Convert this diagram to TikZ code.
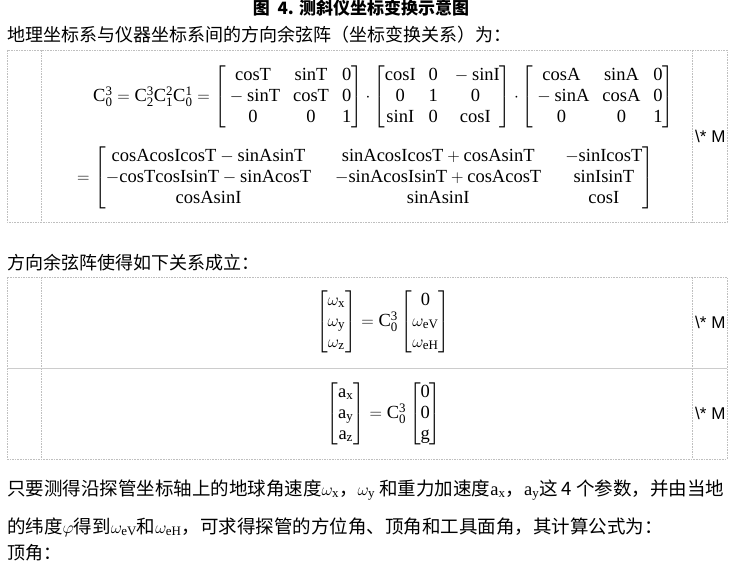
\documentclass[tikz,border=0pt]{standalone}
\usepackage{amsmath}
\usepackage{fontspec}
\setmainfont{Liberation Serif}
\newfontfamily\cjk{Noto Sans CJK SC}
\newfontfamily\tagfont{Liberation Sans}
\newcommand{\rmx}[1]{\mathrm{#1}}
\newcommand{\mdot}{{\cdot}}

\begin{document}
\begin{tikzpicture}[x=1pt,y=-1pt,
        cell/.style={draw=gray!50,line width=0.9pt,dash pattern=on 1.6pt off 1pt},
        rowrule/.style={draw=gray!40,line width=0.7pt},
        eq/.style={inner sep=0pt,font=\fontsize{18.5}{21}\selectfont,execute at begin node={\setlength{\arraycolsep}{6.5pt}}},
        txt/.style={inner sep=0pt,anchor=west,font=\fontsize{18}{21}\cjk},
        tagtext/.style={inner sep=0pt,anchor=west,font=\fontsize{17}{19}\tagfont}]
    \useasboundingbox (0,0) rectangle (742,564);
    \node[inner sep=0pt,font=\fontsize{17}{19}\cjk\bfseries] (title) at (361,8) {图\ \ 4. 测斜仪坐标变换示意图};
    \node[txt] (intro) at (7,35) {地理坐标系与仪器坐标系间的方向余弦阵（坐标变换关系）为：};
    \draw[cell] (7,50) rectangle (727,222);
    \draw[cell] (41,50) -- (41,222);
    \draw[cell] (692,50) -- (692,222);
    \node[eq,anchor=west] (prod) at (93,97) {$\rmx{C}_\rmx{0}^\rmx{3}=\rmx{C}_\rmx{2}^\rmx{3}\rmx{C}_\rmx{1}^\rmx{2}\rmx{C}_\rmx{0}^\rmx{1}=
        \begin{bmatrix} \rmx{cosT} & \rmx{sinT} & \rmx{0}\\ {}-\rmx{sinT} & \rmx{cosT} & \rmx{0}\\ \rmx{0} & \rmx{0} & \rmx{1} \end{bmatrix}\mdot
        \begin{bmatrix} \rmx{cosI} & \rmx{0} & {}-\rmx{sinI}\\ \rmx{0} & \rmx{1} & \rmx{0}\\ \rmx{sinI} & \rmx{0} & \rmx{cosI} \end{bmatrix}\mdot
        \begin{bmatrix} \rmx{cosA} & \rmx{sinA} & \rmx{0}\\ {}-\rmx{sinA} & \rmx{cosA} & \rmx{0}\\ \rmx{0} & \rmx{0} & \rmx{1} \end{bmatrix}$};
    \node[eq,anchor=west,execute at begin node={\setlength{\arraycolsep}{12pt}}] (full) at (77,178) {$=\begin{bmatrix}
        \rmx{cosAcosIcosT}-\rmx{sinAsinT} & \rmx{sinAcosIcosT}+\rmx{cosAsinT} & -\rmx{sinIcosT}\\
        -\rmx{cosTcosIsinT}-\rmx{sinAcosT} & -\rmx{sinAcosIsinT}+\rmx{cosAcosT} & \rmx{sinIsinT}\\
        \rmx{cosAsinI} & \rmx{sinAsinI} & \rmx{cosI} \end{bmatrix}$};
    \node[txt] (relation) at (7,263) {方向余弦阵使得如下关系成立：};
    \draw[cell] (7,277) rectangle (727,459);
    \draw[cell] (41,277) -- (41,459);
    \draw[cell] (692,277) -- (692,459);
    \draw[rowrule] (7,368) -- (727,368);
    \node[eq] (omega) at (383,322) {$\begin{bmatrix} \omega_\rmx{x}\\ \omega_\rmx{y}\\ \omega_\rmx{z} \end{bmatrix}
        =\rmx{C}_\rmx{0}^\rmx{3}\begin{bmatrix} \rmx{0}\\ \omega_\rmx{eV}\\ \omega_\rmx{eH} \end{bmatrix}$};
    \node[eq] (accel) at (384,414) {$\begin{bmatrix} \rmx{a}_\rmx{x}\\ \rmx{a}_\rmx{y}\\ \rmx{a}_\rmx{z} \end{bmatrix}
        =\rmx{C}_\rmx{0}^\rmx{3}\begin{bmatrix} \rmx{0}\\ \rmx{0}\\ \rmx{g} \end{bmatrix}$};
    \begin{scope}
        \clip (692,50) rectangle (726,459);
        \node[tagtext] (tagA) at (695,136) {\textbackslash* M};
        \node[tagtext] (tagB) at (695,322) {\textbackslash* M};
        \node[tagtext] (tagC) at (695,413) {\textbackslash* M};
    \end{scope}
    \node[txt,font=\fontsize{18.5}{21}\cjk] (lineA) at (7,490) {只要测得沿探管坐标轴上的地球角速度$\omega_\rmx{x}$，$\omega_\rmx{y}$ 和重力加速度$\rmx{a}_\rmx{x}$，$\rmx{a}_\rmx{y}$这 4 个参数，并由当地};
    \node[txt,font=\fontsize{18.5}{21}\cjk] (lineB) at (7,527) {的纬度$\varphi$得到$\omega_\rmx{eV}$和$\omega_\rmx{eH}$，可求得探管的方位角、顶角和工具面角，其计算公式为：};
    \node[txt] (lineC) at (7,553) {顶角：};
\end{tikzpicture}
\end{document}
